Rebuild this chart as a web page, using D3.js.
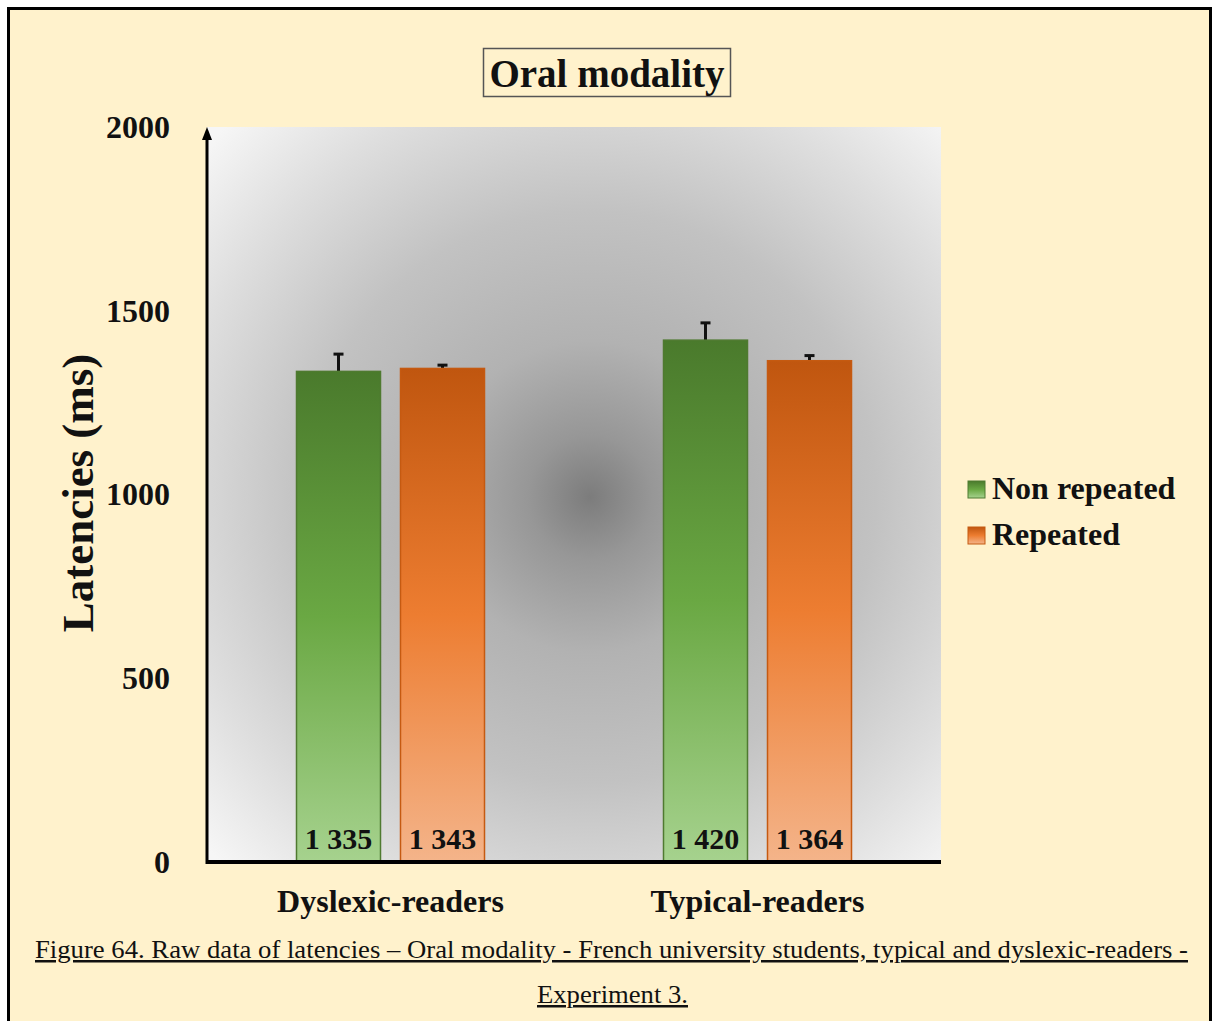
<!DOCTYPE html>
<html>
<head>
<meta charset="utf-8">
<script src="https://cdn.jsdelivr.net/npm/d3@7"></script>
<style>
  html, body { margin: 0; padding: 0; background: #fff; }
  svg { display: block; }
  text { font-family: "Liberation Serif", "Times New Roman", Times, serif; }
</style>
</head>
<body>
<div id="chart"></div>
<script>
// data
const groups = ["Dyslexic-readers", "Typical-readers"]
const series = ["Non repeated", "Repeated"]
const nonRepeated = [1335, 1420]
const repeated = [1343, 1364]
const nonRepeatedErr = [47, 47]
const repeatedErr = [9, 14]
const valueLabels = [["1 335", "1 343"], ["1 420", "1 364"]]
const yTicks = [0, 500, 1000, 1500, 2000]

const width = 1212
const height = 1021

// plot box
const x0 = 207, x1 = 941, yTop = 127, yBot = 862

const svg = d3.select("#chart")
  .append("svg")
  .attr("width", width)
  .attr("height", height)
  .attr("viewBox", [0, 0, width, height])

const defs = svg.append("defs")

const bg = defs.append("radialGradient")
  .attr("id", "plotBg")
  .attr("gradientUnits", "userSpaceOnUse")
  .attr("cx", 590).attr("cy", 497).attr("r", 520)
bg.selectAll("stop")
  .data([[0, "#7c7c7c"], [0.12, "#979797"], [0.3, "#b2b2b2"], [0.55, "#c2c2c2"], [0.8, "#dedede"], [1, "#f6f6f6"]])
  .join("stop")
  .attr("offset", d => d[0])
  .attr("stop-color", d => d[1])

const gradColors = {
  "Non repeated": ["#4a7a2c", "#6aa843", "#a6d28e"],
  "Repeated": ["#c0560f", "#ed7d31", "#f4b48a"]
}
series.forEach((s, i) => {
  const g = defs.append("linearGradient")
    .attr("id", "bar" + i)
    .attr("x1", 0).attr("y1", 0).attr("x2", 0).attr("y2", 1)
  g.selectAll("stop")
    .data(gradColors[s])
    .join("stop")
    .attr("offset", (d, j) => j / 2)
    .attr("stop-color", d => d)
})

// page background + frame
svg.append("rect")
  .attr("x", 7).attr("y", 7)
  .attr("width", width - 7).attr("height", height - 7)
  .attr("fill", "#fff2cc")
svg.append("path")
  .attr("d", `M8.5,${height} V8.5 H${width - 1.5} V${height}`)
  .attr("fill", "none")
  .attr("stroke", "#000")
  .attr("stroke-width", 3)

// plot area
svg.append("rect")
  .attr("x", x0).attr("y", yTop)
  .attr("width", x1 - x0).attr("height", yBot - yTop)
  .attr("fill", "url(#plotBg)")

const yScale = d3.scaleLinear().domain([0, 2000]).range([yBot, yTop])
const xScale = d3.scaleBand().domain(groups).range([x0, x1]).padding(0)
const xInner = d3.scaleBand().domain(series).range([-94, 94]).paddingInner(20 / 104)

const rows = []
groups.forEach((g, gi) => {
  rows.push({ g, gi, s: series[0], si: 0, v: nonRepeated[gi], e: nonRepeatedErr[gi], label: valueLabels[gi][0] })
  rows.push({ g, gi, s: series[1], si: 1, v: repeated[gi], e: repeatedErr[gi], label: valueLabels[gi][1] })
})
const barX = d => xScale(d.g) + xScale.bandwidth() / 2 + xInner(d.s)
const barMid = d => barX(d) + xInner.bandwidth() / 2

// error bars (drawn first, bar covers lower half)
const err = svg.append("g").attr("stroke", "#111").attr("stroke-width", 3)
err.selectAll("line.v")
  .data(rows)
  .join("line")
  .attr("x1", barMid).attr("x2", barMid)
  .attr("y1", d => yScale(d.v))
  .attr("y2", d => yScale(d.v + d.e))
err.selectAll("line.cap")
  .data(rows)
  .join("line")
  .attr("x1", d => barMid(d) - 5)
  .attr("x2", d => barMid(d) + 5)
  .attr("y1", d => yScale(d.v + d.e))
  .attr("y2", d => yScale(d.v + d.e))

// bars
svg.append("g")
  .selectAll("rect")
  .data(rows)
  .join("rect")
  .attr("x", d => barX(d))
  .attr("y", d => yScale(d.v))
  .attr("width", xInner.bandwidth())
  .attr("height", d => yScale(0) - yScale(d.v))
  .attr("fill", d => `url(#bar${d.si})`)
  .attr("stroke", d => d.si === 0 ? "#4f7a30" : "#c55a11")
  .attr("stroke-width", 1.5)

// value labels
svg.append("g")
  .selectAll("text")
  .data(rows)
  .join("text")
  .attr("x", barMid)
  .attr("y", yBot - 13)
  .attr("text-anchor", "middle")
  .attr("font-weight", "bold")
  .attr("font-size", 30)
  .attr("fill", "#111")
  .text(d => d.label)

// y axis ticks (labels only)
svg.append("g")
  .attr("transform", `translate(${x0},0)`)
  .call(d3.axisLeft(yScale).tickValues(yTicks).tickSize(0).tickPadding(37).tickFormat(d3.format("d")))
  .call(g => g.select(".domain").remove())
  .call(g => g.selectAll("text")
    .attr("font-weight", "bold")
    .attr("font-size", 32)
    .attr("fill", "#111"))

// x axis labels
svg.append("g")
  .attr("transform", `translate(0,${yBot})`)
  .call(d3.axisBottom(xScale).tickSize(0).tickPadding(27))
  .call(g => g.select(".domain").remove())
  .call(g => g.selectAll("text")
    .attr("font-weight", "bold")
    .attr("font-size", 32)
    .attr("fill", "#111"))
svg.selectAll("g").attr("font-family", null)

// axis lines
svg.append("line")
  .attr("x1", x0).attr("x2", x1)
  .attr("y1", yBot).attr("y2", yBot)
  .attr("stroke", "#000").attr("stroke-width", 4)
svg.append("line")
  .attr("x1", x0).attr("x2", x0)
  .attr("y1", yBot + 2).attr("y2", yTop + 10)
  .attr("stroke", "#000").attr("stroke-width", 3)
svg.append("path")
  .attr("d", `M${x0 - 5},${yTop + 13} L${x0},${yTop} L${x0 + 5},${yTop + 13} Z`)
  .attr("fill", "#000")

// y title
svg.append("text")
  .attr("transform", `translate(93,493) rotate(-90)`)
  .attr("text-anchor", "middle")
  .attr("font-weight", "bold")
  .attr("font-size", 45)
  .attr("fill", "#111")
  .text("Latencies (ms)")

// title box
svg.append("rect")
  .attr("x", 483.5).attr("y", 48.5)
  .attr("width", 247).attr("height", 48)
  .attr("fill", "none")
  .attr("stroke", "#555")
  .attr("stroke-width", 1.5)
svg.append("text")
  .attr("x", 607).attr("y", 87)
  .attr("text-anchor", "middle")
  .attr("font-weight", "bold")
  .attr("font-size", 39)
  .attr("fill", "#111")
  .text("Oral modality")

// legend
const legend = svg.append("g")
  .selectAll("g")
  .data(series)
  .join("g")
  .attr("transform", (d, i) => `translate(968,${481 + i * 46})`)
legend.append("rect")
  .attr("width", 17).attr("height", 17)
  .attr("fill", (d, i) => `url(#bar${i})`)
  .attr("stroke", (d, i) => i === 0 ? "#4f7a30" : "#c55a11")
  .attr("stroke-width", 1)
legend.append("text")
  .attr("x", 24).attr("y", 18)
  .attr("font-weight", "bold")
  .attr("font-size", 32)
  .attr("fill", "#111")
  .text(d => d)

// caption
svg.append("text")
  .attr("x", 35).attr("y", 958)
  .attr("textLength", 1153)
  .attr("lengthAdjust", "spacingAndGlyphs")
  .attr("font-size", 25)
  .attr("text-decoration", "underline")
  .attr("fill", "#111")
  .text("Figure 64. Raw data of latencies – Oral modality - French university students, typical and dyslexic-readers -")
svg.append("text")
  .attr("x", 537).attr("y", 1003)
  .attr("textLength", 151)
  .attr("lengthAdjust", "spacingAndGlyphs")
  .attr("font-size", 25)
  .attr("text-decoration", "underline")
  .attr("fill", "#111")
  .text("Experiment 3.")
</script>
</body>
</html>
